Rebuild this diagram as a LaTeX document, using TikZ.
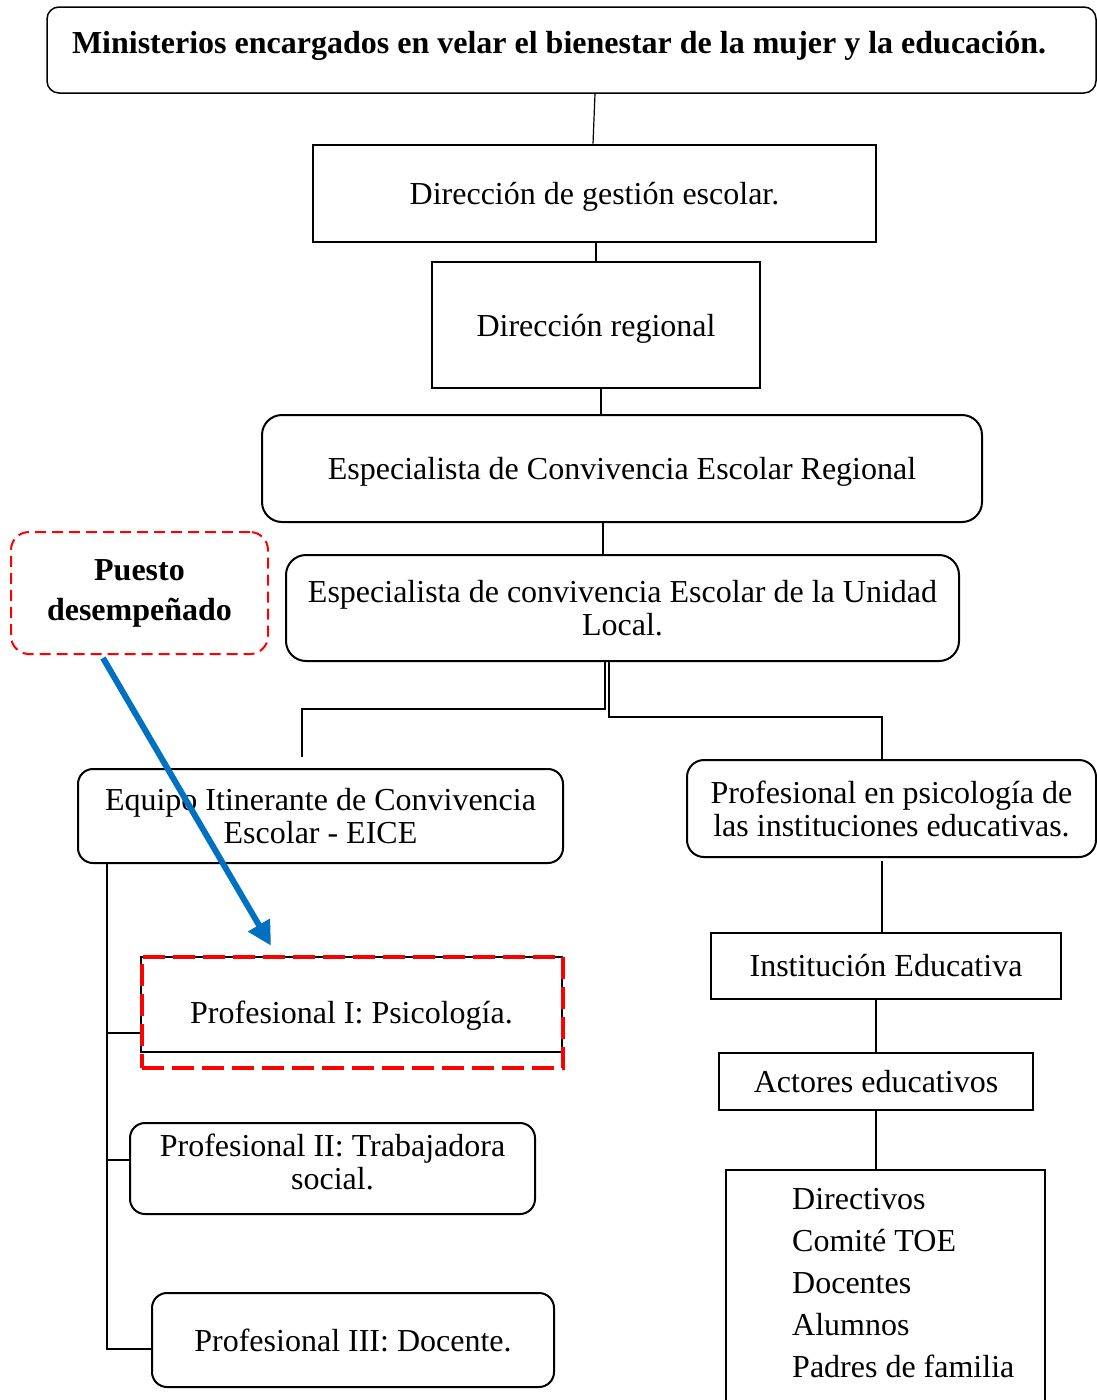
\documentclass[tikz,border=0pt]{standalone}
\usepackage{fontspec}
\setmainfont{Liberation Serif}
\usetikzlibrary{arrows.meta, positioning}
\definecolor{arrowblue}{RGB}{0,112,192}
\newcommand{\orgsize}{\fontsize{32pt}{33pt}\selectfont}

\begin{document}
\begin{tikzpicture}[
    x=1pt, y=-1pt,
    ministry/.style={rectangle, draw, rounded corners=12pt, line width=1.5pt, inner xsep=25pt, inner ysep=0pt, font=\orgsize\bfseries},
    office/.style={rectangle, draw, line width=2.8pt, inner sep=0pt, align=center, font=\orgsize},
    panel/.style={rectangle, draw, rounded corners=17pt, line width=2pt, inner sep=0pt, align=center, font=\orgsize},
    unit/.style={rectangle, draw, line width=2pt, inner sep=0pt, align=center, font=\orgsize},
    focus/.style={rectangle, draw=red, line width=4.5pt, dash pattern=on 22pt off 8pt, inner sep=0pt},
    tag/.style={rectangle, draw=red, rounded corners=18pt, line width=2pt, dash pattern=on 11pt off 6pt, inner sep=0pt, align=center, font=\fontsize{32pt}{40pt}\selectfont\bfseries},
    link/.style={line width=2.5pt},
    thinlink/.style={line width=1.2pt},
    pointer/.style={-{Triangle[length=24pt, width=24pt]}, line width=6pt, draw=arrowblue}
]
    \useasboundingbox (0, 0) rectangle (1096, 1400);

    % Top levels
    \node[ministry, minimum width=1049pt, minimum height=86pt, text depth=16pt] (mins) at (571.5, 50) {\makebox[999pt][l]{Ministerios encargados en velar el bienestar de la mujer y la educación.}};
    \node[office, minimum width=563pt, minimum height=97pt, text height=29pt] (dges) at (594.5, 193.5) {Dirección de gestión escolar.};
    \node[office, line width=2.5pt, minimum width=328pt, minimum height=126pt, text height=29pt] (dreg) at (596, 325) {Dirección regional};
    \node[panel, rounded corners=20pt, minimum width=720pt, minimum height=107pt, text height=29pt] (esreg) at (622, 468.5) {Especialista de Convivencia Escolar Regional};
    \node[panel, rounded corners=20pt, minimum width=673pt, minimum height=106pt] (local) at (622.5, 608) {Especialista de convivencia Escolar de la Unidad\\Local.};

    \draw[thinlink] ([xshift=23.5pt]mins.south) -- ([xshift=-1.5pt]dges.north);
    \draw[link] (dreg.north |- dges.south) -- (dreg.north);
    \draw[link] ([xshift=5pt]dreg.south) -- ([xshift=-21pt]esreg.north);
    \draw[link] ([xshift=-19pt]esreg.south) -- ([xshift=-19.5pt]local.north);

    % Left branch (EICE)
    \node[panel, rounded corners=15pt, minimum width=485pt, minimum height=94pt] (eice) at (320.5, 816) {Equipo Itinerante de Convivencia\\Escolar - EICE};
    \node[office, line width=2.5pt, minimum width=421pt, minimum height=95pt, text height=44pt, text depth=7pt] (p1) at (351.5, 1004.5) {Profesional I: Psicología.};
    \node[focus, minimum width=421pt, minimum height=111pt] (p1mark) at (352.5, 1012.5) {};
    \node[panel, rounded corners=15pt, minimum width=405pt, minimum height=91pt, text depth=13pt] (p2) at (332.5, 1168.5) {Profesional II: Trabajadora\\social.};
    \node[panel, rounded corners=15pt, minimum width=402pt, minimum height=94pt] (p3) at (353, 1340) {Profesional III: Docente.};

    \draw[link] ([xshift=-17.5pt]local.south) -- ++(0, 47) -| ([xshift=-18.5pt, yshift=11pt]eice.north);
    \coordinate (trunk) at ([xshift=30pt]eice.south west);
    \coordinate (p1in) at ([yshift=-28.5pt]p1.west);
    \coordinate (p2in) at ([yshift=8.5pt]p2.west);
    \coordinate (p3in) at ([yshift=-9pt]p3.west);
    \draw[link] (trunk) |- (p3in);
    \draw[link] (trunk |- p1in) -- (p1in);
    \draw[link] (trunk |- p2in) -- (p2in);

    % Right branch (institutions)
    \node[panel, minimum width=409pt, minimum height=97pt] (psico) at (891.5, 808.5) {Profesional en psicología de\\las instituciones educativas.};
    \node[unit, minimum width=350pt, minimum height=66pt] (inst) at (886, 966) {Institución Educativa};
    \node[unit, minimum width=314pt, minimum height=57pt] (actores) at (876, 1081.5) {Actores educativos};
    \node[unit, minimum width=319pt, minimum height=260pt, anchor=north] (actlist) at (885.5, 1169) {};
    \node[anchor=north west, align=left, inner sep=0pt, font=\fontsize{32pt}{42pt}\selectfont] (actnames) at (792, 1188) {Directivos\\Comité TOE\\Docentes\\Alumnos\\Padres de familia};

    \draw[link] ([xshift=-13.5pt]local.south) -- ++(0, 55) -| ([xshift=-9.5pt]psico.north);
    \draw[thinlink] ([xshift=-9.5pt, yshift=-3pt]psico.south) -- ([xshift=-4pt]inst.north);
    \draw[thinlink] (actores.north |- inst.south) -- (actores.north);
    \draw[thinlink] (actores.south) -- (actores.south |- actlist.north);

    % Highlight of the position
    \node[tag, minimum width=257pt, minimum height=122pt] (puesto) at (139.5, 593) {Puesto\\desempeñado};
    \draw[pointer] ([xshift=-36.5pt, yshift=-3pt]puesto.south) -- ([xshift=-81.5pt, yshift=9pt]p1mark.north);
\end{tikzpicture}
\end{document}
